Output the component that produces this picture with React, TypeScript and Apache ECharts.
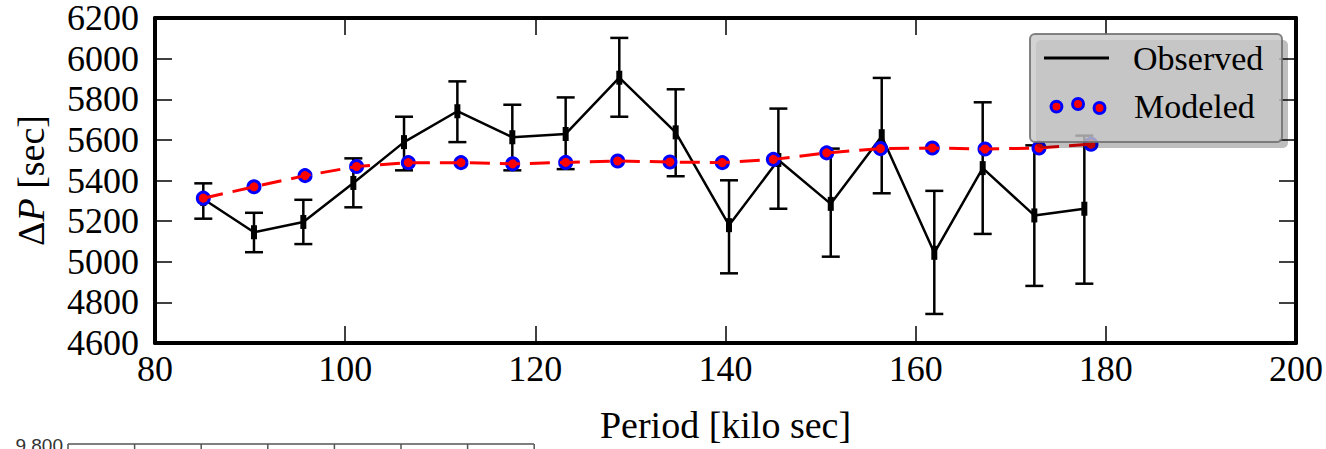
import React, { useEffect, useRef } from "react";
import * as echarts from "echarts";

// Observed period spacings (with error bars)
const obsX = [85.08, 90.41, 95.6, 100.86, 106.19, 111.8, 117.58, 123.19, 128.83, 134.76, 140.37, 145.56, 151.07, 156.43, 161.96, 167.05, 172.48, 177.74];
const obsY = [5309, 5145, 5196, 5388, 5589, 5741, 5613, 5629, 5906, 5637, 5180, 5501, 5285, 5618, 5044, 5461, 5228, 5261];
const obsHigh = [5386, 5241, 5305, 5509, 5714, 5888, 5773, 5809, 6102, 5849, 5401, 5754, 5557, 5905, 5349, 5785, 5573, 5621];
const obsLow = [5212, 5047, 5087, 5268, 5450, 5589, 5450, 5456, 5714, 5421, 4943, 5261, 5025, 5337, 4743, 5137, 4881, 4892];

// Modeled period spacings
const modX = [85.08, 90.41, 95.78, 101.2, 106.64, 112.18, 117.62, 123.19, 128.66, 134.16, 139.66, 145.03, 150.64, 156.3, 161.75, 167.29, 172.97, 178.44];
const modY = [5313, 5369, 5424, 5469, 5488, 5488, 5482, 5489, 5496, 5491, 5488, 5504, 5536, 5557, 5560, 5555, 5560, 5579];

const xTicks = { min: 80, max: 200, interval: 20 };
const yTicks = { min: 4600, max: 6200, interval: 200 };

const SERIF = "'Liberation Serif', 'DejaVu Serif', serif";

const threeDots =
  "path://M1.5,9.6 a5.5,5.5 0 1,0 11,0 a5.5,5.5 0 1,0 -11,0 Z " +
  "M23.2,7 a5.5,5.5 0 1,0 11,0 a5.5,5.5 0 1,0 -11,0 Z " +
  "M44.8,11 a5.5,5.5 0 1,0 11,0 a5.5,5.5 0 1,0 -11,0 Z";

export default function App() {
  const ref = useRef<HTMLDivElement>(null);

  useEffect(() => {
    document.body.style.margin = "0";
    if (!ref.current) return;
    const chart = echarts.init(ref.current, null, { renderer: "svg" });

    const axisCommon = {
      type: "value" as const,
      splitLine: { show: false },
      axisLine: { show: true, onZero: false, lineStyle: { color: "#000", width: 4 } },
      axisTick: { show: true, inside: true, length: 17, lineStyle: { color: "#000", width: 1.5 } },
    };

    const errData = obsX.map((x, i) => [x, obsY[i], obsLow[i], obsHigh[i]]);

    const insetTicks: any[] = [];
    for (let k = 0; k < 8; k++) {
      const tx = 68 + k * 66.6;
      insetTicks.push({
        type: "line",
        shape: { x1: tx, y1: 444, x2: tx, y2: 452 },
        style: { stroke: "#555", lineWidth: 1.5 },
      });
    }

    const option: any = {
      animation: false,
      backgroundColor: "#fff",
      grid: { left: 155, right: 29, top: 18, bottom: 98, containLabel: false },
      xAxis: [
        {
          ...axisCommon,
          ...xTicks,
          position: "bottom",
          name: "Period [kilo sec]",
          nameLocation: "middle",
          nameGap: 63,
          nameTextStyle: { fontSize: 38, fontFamily: SERIF, color: "#000" },
          axisLabel: { fontSize: 36, fontFamily: SERIF, color: "#000", margin: 8 },
        },
        {
          ...axisCommon,
          ...xTicks,
          position: "top",
          axisLabel: { show: false },
        },
      ],
      yAxis: [
        {
          ...axisCommon,
          ...yTicks,
          position: "left",
          name: "Δ{i|P} [sec]",
          nameLocation: "middle",
          nameGap: 105,
          nameTextStyle: {
            fontSize: 38,
            fontFamily: SERIF,
            color: "#000",
            rich: { i: { fontSize: 38, fontFamily: SERIF, fontStyle: "italic", color: "#000" } },
          },
          axisLabel: {
            fontSize: 36,
            fontFamily: SERIF,
            color: "#000",
            margin: 16,
            formatter: (v: number) => String(v),
          },
        },
        {
          ...axisCommon,
          ...yTicks,
          position: "right",
          axisLabel: { show: false },
        },
      ],
      legend: [
        {
          data: [{ name: "Observed", icon: "rect", itemStyle: { color: "#000", borderWidth: 0 } }],
          left: 1044,
          top: 41,
          padding: 0,
          itemWidth: 65,
          itemHeight: 3,
          selectedMode: false,
          z: 20,
          textStyle: { fontSize: 34, fontFamily: SERIF, color: "#000", padding: [0, 0, 0, 19] },
        },
        {
          data: [
            {
              name: "Modeled",
              icon: threeDots,
              itemStyle: { color: "#ff0000", borderColor: "#0000ff", borderWidth: 3 },
            },
          ],
          left: 1049.5,
          top: 89,
          padding: 0,
          itemWidth: 54,
          itemHeight: 15,
          selectedMode: false,
          z: 20,
          textStyle: { fontSize: 34, fontFamily: SERIF, color: "#000", padding: [0, 0, 0, 24] },
        },
      ],
      graphic: [
        {
          type: "rect",
          z: 9,
          shape: { x: 1036, y: 40, width: 252, height: 108, r: 5 },
          style: { fill: "rgba(0,0,0,0.25)" },
        },
        {
          type: "rect",
          z: 10,
          shape: { x: 1030, y: 34, width: 252, height: 108, r: 5 },
          style: { fill: "rgba(200,200,200,0.8)", stroke: "rgba(110,110,110,0.85)", lineWidth: 2 },
        },
        {
          type: "text",
          z: 10,
          style: {
            text: "9.800",
            x: 63,
            y: 445,
            align: "right",
            verticalAlign: "middle",
            fontSize: 19,
            fontFamily: "'Liberation Sans', Arial, sans-serif",
            fill: "#333",
          },
        },
        {
          type: "line",
          z: 10,
          shape: { x1: 68, y1: 444, x2: 534, y2: 444 },
          style: { stroke: "#555", lineWidth: 1.5 },
        },
        ...insetTicks,
      ],
      series: [
        {
          name: "Observed",
          type: "line",
          xAxisIndex: 0,
          yAxisIndex: 0,
          data: obsX.map((x, i) => [x, obsY[i]]),
          showSymbol: false,
          symbol: "none",
          lineStyle: { color: "#000", width: 2.5 },
          itemStyle: { color: "#000" },
          z: 2,
        },
        {
          name: "errorbars",
          type: "custom",
          xAxisIndex: 0,
          yAxisIndex: 0,
          data: errData,
          encode: { x: 0, y: [1, 2, 3] },
          z: 2,
          renderItem: (params: any, api: any) => {
            const p = api.coord([api.value(0), api.value(1)]);
            const lo = api.coord([api.value(0), api.value(2)]);
            const hi = api.coord([api.value(0), api.value(3)]);
            const st = { stroke: "#000", lineWidth: 2.5 };
            return {
              type: "group",
              children: [
                { type: "line", shape: { x1: p[0], y1: hi[1], x2: p[0], y2: lo[1] }, style: st },
                { type: "line", shape: { x1: p[0] - 9, y1: hi[1], x2: p[0] + 9, y2: hi[1] }, style: st },
                { type: "line", shape: { x1: p[0] - 9, y1: lo[1], x2: p[0] + 9, y2: lo[1] }, style: st },
                { type: "rect", shape: { x: p[0] - 3, y: p[1] - 7, width: 6, height: 14 }, style: { fill: "#000" } },
              ],
            };
          },
        },
        {
          name: "Modeled",
          type: "scatter",
          xAxisIndex: 0,
          yAxisIndex: 0,
          data: modX.map((x, i) => [x, modY[i]]),
          symbol: "circle",
          symbolSize: 12,
          itemStyle: { color: "#ff0000", borderColor: "#0000ff", borderWidth: 3, opacity: 1 },
          z: 3,
        },
        {
          name: "ModeledLine",
          type: "line",
          xAxisIndex: 0,
          yAxisIndex: 0,
          data: modX.map((x, i) => [x, modY[i]]),
          showSymbol: false,
          symbol: "none",
          lineStyle: { color: "#ff0000", width: 3, type: [20, 10] },
          z: 4,
        },
      ],
    };

    chart.setOption(option);
    return () => chart.dispose();
  }, []);

  return (
    <div
      ref={ref}
      style={{ position: "fixed", left: 0, top: 0, width: 1326, height: 449 }}
    />
  );
}
